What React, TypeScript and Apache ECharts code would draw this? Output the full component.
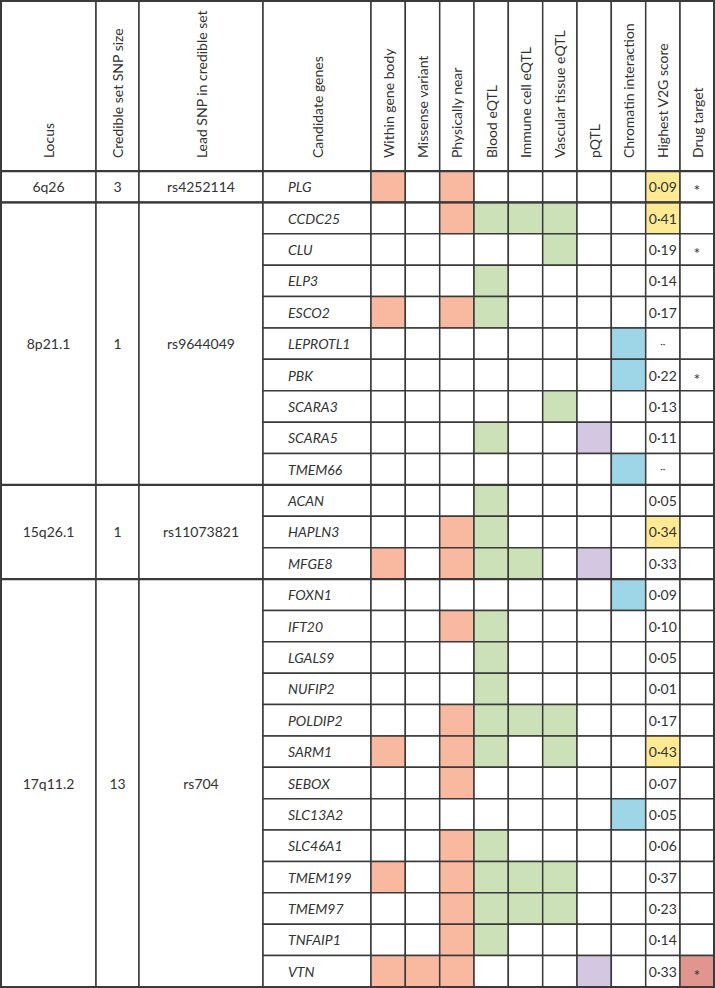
import React, { useEffect, useRef } from "react";
import * as echarts from "echarts";

// ---------------- data ----------------
const LOCI = ["6q26", "8p21.1", "15q26.1", "17q11.2"];
const CREDIBLE_SET_SIZES = [3, 1, 1, 13];
const LEAD_SNPS = ["rs4252114", "rs9644049", "rs11073821", "rs704"];
const GENES_BY_LOCUS = [
  ["PLG"],
  ["CCDC25", "CLU", "ELP3", "ESCO2", "LEPROTL1", "PBK", "SCARA3", "SCARA5", "TMEM66"],
  ["ACAN", "HAPLN3", "MFGE8"],
  ["FOXN1", "IFT20", "LGALS9", "NUFIP2", "POLDIP2", "SARM1", "SEBOX", "SLC13A2", "SLC46A1", "TMEM199", "TMEM97", "TNFAIP1", "VTN"],
];
const COLUMN_HEADERS = [
  "Locus",
  "Credible set SNP size",
  "Lead SNP in credible set",
  "Candidate genes",
  "Within gene body",
  "Missense variant",
  "Physically near",
  "Blood eQTL",
  "Immune cell eQTL",
  "Vascular tissue eQTL",
  "pQTL",
  "Chromatin interaction",
  "Highest V2G score",
  "Drug target",
];
const WITHIN_GENE_BODY = ["PLG", "ESCO2", "MFGE8", "SARM1", "TMEM199", "VTN"];
const MISSENSE_VARIANT = ["VTN"];
const PHYSICALLY_NEAR = ["PLG", "CCDC25", "ESCO2", "HAPLN3", "MFGE8", "IFT20", "POLDIP2", "SARM1", "SEBOX", "SLC46A1", "TMEM199", "TMEM97", "TNFAIP1", "VTN"];
const BLOOD_EQTL = ["CCDC25", "ELP3", "ESCO2", "SCARA5", "ACAN", "HAPLN3", "MFGE8", "IFT20", "LGALS9", "NUFIP2", "POLDIP2", "SARM1", "SLC46A1", "TMEM199", "TMEM97", "TNFAIP1"];
const IMMUNE_CELL_EQTL = ["CCDC25", "MFGE8", "POLDIP2", "TMEM199", "TMEM97"];
const VASCULAR_TISSUE_EQTL = ["CCDC25", "CLU", "SCARA3", "POLDIP2", "SARM1", "TMEM199", "TMEM97"];
const PQTL = ["SCARA5", "MFGE8", "VTN"];
const CHROMATIN_INTERACTION = ["LEPROTL1", "PBK", "TMEM66", "FOXN1", "SLC13A2"];
// V2G score per gene in table order (null = not available)
const V2G_SCORES = [
  0.09,
  0.41, 0.19, 0.14, 0.17, null, 0.22, 0.13, 0.11, null,
  0.05, 0.34, 0.33,
  0.09, 0.1, 0.05, 0.01, 0.17, 0.43, 0.07, 0.05, 0.06, 0.37, 0.23, 0.14, 0.33,
];
const DRUG_TARGETS = ["PLG", "CLU", "PBK", "VTN"];
const DRUG_TARGETS_HIGHLIGHTED = ["VTN"];

// ---------------- layout / style ----------------
const COL_EDGES = [1, 96, 139, 263, 371, 405.3, 439.7, 474, 508.3, 542.7, 577, 611.3, 645.7, 680, 714];
const HEADER_ROWS = 5.42;
const LINE = "#3a3a3a";
const TEXT = "#333333";
const FONT = "Lato";
const BODY_SIZE = 14;
const HEADER_SIZE = 14;
const EVIDENCE_COLORS = ["#F9B9A0", "#F9B9A0", "#F9B9A0", "#CDE1B8", "#CDE1B8", "#CDE1B8", "#D4C7E2", "#9ED6E8"];
const YELLOW = "#FDEA92";
const DRUG_RED = "#E0968F";

const EVIDENCE_LISTS = [WITHIN_GENE_BODY, MISSENSE_VARIANT, PHYSICALLY_NEAR, BLOOD_EQTL, IMMUNE_CELL_EQTL, VASCULAR_TISSUE_EQTL, PQTL, CHROMATIN_INTERACTION];

export default function App() {
  const ref = useRef<HTMLDivElement>(null);

  useEffect(() => {
    document.body.style.margin = "0";
    if (!ref.current) return;
    const chart = echarts.init(ref.current, undefined, { renderer: "svg" });

    // derived table rows
    const genes: { gene: string; locus: number; row: number }[] = [];
    const groupStart: number[] = [];
    let r = 0;
    GENES_BY_LOCUS.forEach((list, li) => {
      groupStart.push(r);
      list.forEach((g) => {
        genes.push({ gene: g, locus: li, row: r });
        r++;
      });
    });
    const totalRows = r;
    const locusMax = GENES_BY_LOCUS.map((_, li) => {
      let m = -1;
      genes.forEach((g, gi) => {
        const v = V2G_SCORES[gi];
        if (g.locus === li && v != null && v > m) m = v;
      });
      return m;
    });

    const txt = (text: string, size: number, italic = false) => ({
      text,
      fontSize: size,
      fontFamily: FONT,
      fontStyle: italic ? "italic" : "normal",
      fill: TEXT,
    });

    const cellRect = (api: any, c0: number, c1: number, y0: number, y1: number, fill: string) => {
      const p0 = api.coord([COL_EDGES[c0], y0]);
      const p1 = api.coord([COL_EDGES[c1], y1]);
      return {
        type: "rect",
        shape: { x: p0[0], y: p0[1], width: p1[0] - p0[0], height: p1[1] - p0[1] },
        style: { fill, stroke: LINE, lineWidth: 1.5 },
      };
    };
    const center = (api: any, c: number, y0: number, y1: number) => {
      const p0 = api.coord([COL_EDGES[c], y0]);
      const p1 = api.coord([COL_EDGES[c + 1], y1]);
      return [(p0[0] + p1[0]) / 2, (p0[1] + p1[1]) / 2];
    };

    const evidenceData: number[][] = [];
    genes.forEach((g, gi) => {
      EVIDENCE_LISTS.forEach((list, ei) => {
        evidenceData.push([ei, gi, list.includes(g.gene) ? 1 : 0]);
      });
    });

    const fmt = (v: number | null) => (v == null ? "··" : v.toFixed(2).replace(".", "·"));

    const option: any = {
      animation: false,
      grid: { left: 0, top: 1, width: 715, height: 986 },
      xAxis: { type: "value", min: 0, max: 715, show: false },
      yAxis: { type: "value", min: -HEADER_ROWS, max: totalRows, inverse: true, show: false },
      series: [
        {
          type: "custom",
          name: "header",
          data: COLUMN_HEADERS.map((_, i) => [i]),
          renderItem: (params: any, api: any) => {
            const i = params.dataIndex;
            const p0 = api.coord([COL_EDGES[i], -HEADER_ROWS]);
            const p1 = api.coord([COL_EDGES[i + 1], 0]);
            return {
              type: "group",
              children: [
                cellRect(api, i, i + 1, -HEADER_ROWS, 0, "#ffffff"),
                {
                  type: "text",
                  x: (p0[0] + p1[0]) / 2,
                  y: p1[1] - 13,
                  rotation: Math.PI / 2,
                  style: { ...txt(COLUMN_HEADERS[i], HEADER_SIZE), align: "left", verticalAlign: "middle" },
                },
              ],
            };
          },
        },
        {
          type: "custom",
          name: "locus",
          data: LOCI.map((_, i) => [i]),
          renderItem: (params: any, api: any) => {
            const li = params.dataIndex;
            const y0 = groupStart[li];
            const y1 = y0 + GENES_BY_LOCUS[li].length;
            const texts = [LOCI[li], String(CREDIBLE_SET_SIZES[li]), LEAD_SNPS[li]];
            const children: any[] = [];
            texts.forEach((t, c) => {
              children.push(cellRect(api, c, c + 1, y0, y1, "#ffffff"));
              const ct = center(api, c, y0, y1);
              children.push({
                type: "text",
                x: ct[0],
                y: ct[1],
                style: { ...txt(t, BODY_SIZE), align: "center", verticalAlign: "middle" },
              });
            });
            return { type: "group", children };
          },
        },
        {
          type: "custom",
          name: "genes",
          data: genes.map((g) => [g.row]),
          renderItem: (params: any, api: any) => {
            const g = genes[params.dataIndex];
            const ct = center(api, 3, g.row, g.row + 1);
            const left = api.coord([COL_EDGES[3], 0])[0];
            return {
              type: "group",
              children: [
                cellRect(api, 3, 4, g.row, g.row + 1, "#ffffff"),
                {
                  type: "text",
                  x: left + 25,
                  y: ct[1],
                  style: { ...txt(g.gene, BODY_SIZE, true), align: "left", verticalAlign: "middle" },
                },
              ],
            };
          },
        },
        {
          type: "custom",
          name: "evidence",
          data: evidenceData,
          renderItem: (params: any, api: any) => {
            const [ei, gi, flag] = evidenceData[params.dataIndex];
            const row = genes[gi].row;
            return cellRect(api, 4 + ei, 5 + ei, row, row + 1, flag ? EVIDENCE_COLORS[ei] : "#ffffff");
          },
        },
        {
          type: "custom",
          name: "v2g",
          data: genes.map((g) => [g.row]),
          renderItem: (params: any, api: any) => {
            const gi = params.dataIndex;
            const g = genes[gi];
            const v = V2G_SCORES[gi];
            const top = v != null && v === locusMax[g.locus];
            const ct = center(api, 12, g.row, g.row + 1);
            return {
              type: "group",
              children: [
                cellRect(api, 12, 13, g.row, g.row + 1, top ? YELLOW : "#ffffff"),
                {
                  type: "text",
                  x: ct[0],
                  y: v == null ? ct[1] - 1 : ct[1],
                  style: { ...txt(fmt(v), v == null ? 10 : BODY_SIZE), align: "center", verticalAlign: "middle" },
                },
              ],
            };
          },
        },
        {
          type: "custom",
          name: "drug",
          data: genes.map((g) => [g.row]),
          renderItem: (params: any, api: any) => {
            const g = genes[params.dataIndex];
            const isTarget = DRUG_TARGETS.includes(g.gene);
            const hl = DRUG_TARGETS_HIGHLIGHTED.includes(g.gene);
            const ct = center(api, 13, g.row, g.row + 1);
            const children: any[] = [cellRect(api, 13, 14, g.row, g.row + 1, hl ? DRUG_RED : "#ffffff")];
            if (isTarget) {
              children.push({
                type: "text",
                x: ct[0],
                y: ct[1] + 3,
                style: { ...txt("*", 16), align: "center", verticalAlign: "middle" },
              });
            }
            return { type: "group", children };
          },
        },
        {
          type: "custom",
          name: "separators",
          z: 10,
          data: [0, ...groupStart.slice(1)].map((v) => [v]),
          renderItem: (params: any, api: any) => {
            const y = params.dataIndex === 0 ? 0 : groupStart[params.dataIndex];
            const p0 = api.coord([COL_EDGES[0], y]);
            const p1 = api.coord([COL_EDGES[COL_EDGES.length - 1], y]);
            return {
              type: "line",
              shape: { x1: p0[0], y1: p0[1], x2: p1[0], y2: p1[1] },
              style: { stroke: LINE, lineWidth: 2.2 },
            };
          },
        },
        {
          type: "custom",
          name: "border",
          z: 10,
          data: [[0]],
          renderItem: (params: any, api: any) => {
            const p0 = api.coord([COL_EDGES[0], -HEADER_ROWS]);
            const p1 = api.coord([COL_EDGES[COL_EDGES.length - 1], totalRows]);
            return {
              type: "rect",
              shape: { x: p0[0], y: p0[1], width: p1[0] - p0[0], height: p1[1] - p0[1] },
              style: { fill: "none", stroke: LINE, lineWidth: 2 },
            };
          },
        },
      ],
    };
    chart.setOption(option);
    return () => chart.dispose();
  }, []);

  return <div ref={ref} style={{ width: 715, height: 988 }} />;
}
